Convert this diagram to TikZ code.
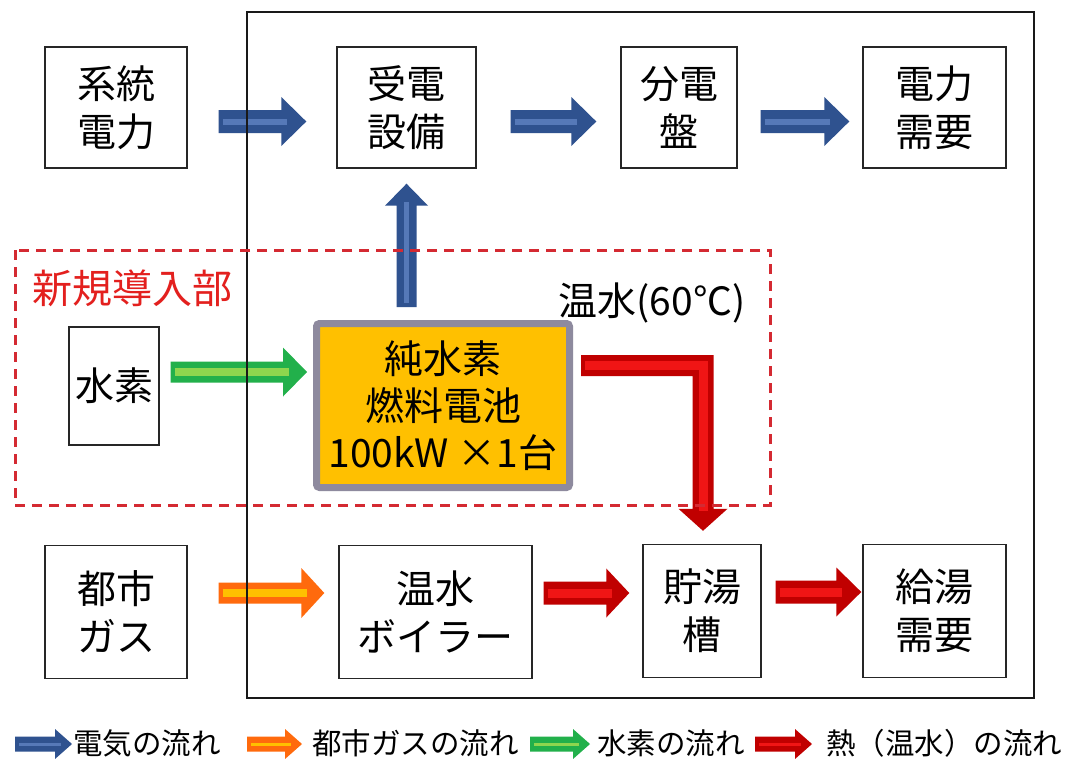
\documentclass[tikz,border=0pt]{standalone}
\usepackage{fontspec}
\setmainfont{Noto Sans CJK JP}
\usetikzlibrary{calc}
\definecolor{blueO}{HTML}{2F528F}
\definecolor{blueI}{HTML}{5679B8}
\definecolor{greenO}{HTML}{22B04B}
\definecolor{greenI}{HTML}{8ED64E}
\definecolor{orangeO}{HTML}{FF6A0D}
\definecolor{orangeI}{HTML}{FFC000}
\definecolor{redO}{HTML}{C00000}
\definecolor{redI}{HTML}{F01515}
\definecolor{fcfill}{HTML}{FFC000}
\definecolor{fcdraw}{HTML}{8E8A9E}
\definecolor{dashred}{HTML}{D42A32}
\definecolor{labred}{HTML}{E3201E}
% right block arrow: #1 start, #2 end, #3 outer, #4 inner, #5 shaft half, #6 head half, #7 head length, #8 inner width
\newcommand\rarr[8]{%
  \fill[#3] let \p1=(#1),\p2=(#2) in
    (\x1,\y1+#5pt) -- (\x2-#7pt,\y1+#5pt) -- (\x2-#7pt,\y1+#6pt) -- (\x2,\y1)
    -- (\x2-#7pt,\y1-#6pt) -- (\x2-#7pt,\y1-#5pt) -- (\x1,\y1-#5pt) -- cycle;
  \draw[#4,line width=#8pt] let \p1=(#1),\p2=(#2) in
    (\x1+4pt,\y1) -- (\x2-#7pt+6pt,\y1);}
% up block arrow: #1 tip, #2 base
\newcommand\uarr[8]{%
  \fill[#3] let \p1=(#1),\p2=(#2) in
    (\x1-#5pt,\y2) -- (\x1-#5pt,\y1-#7pt) -- (\x1-#6pt,\y1-#7pt) -- (\x1,\y1)
    -- (\x1+#6pt,\y1-#7pt) -- (\x1+#5pt,\y1-#7pt) -- (\x1+#5pt,\y2) -- cycle;
  \draw[#4,line width=#8pt] let \p1=(#1),\p2=(#2) in
    (\x1,\y2+4pt) -- (\x1,\y1-#7pt+4pt);}
\begin{document}
\begin{tikzpicture}[x=1pt,y=-1pt,
  box/.style={draw=black!85, line width=1.4, fill=white, align=center, inner sep=0pt,
    font=\fontsize{39}{48}\selectfont},
  fcbox/.style={draw=fcdraw, line width=7, fill=fcfill, rounded corners=3, align=center,
    inner sep=0pt, font=\fontsize{39}{47}\selectfont},
  leg/.style={anchor=west, inner sep=0pt, font=\fontsize{29.5}{32}\selectfont}]
\useasboundingbox (0,0) rectangle (1068,758);
\fill[white] (0,0) rectangle (1068,758);

% nodes
\node[box, minimum width=142, minimum height=121] (sys) at (116,107.5) {系統\\電力};
\node[box, minimum width=139, minimum height=121] (jd) at (406.5,107.5) {受電\\設備};
\node[box, minimum width=116, minimum height=121] (bun) at (679,107.5) {分電\\盤};
\node[box, minimum width=143, minimum height=121] (dem) at (934.5,107.5) {電力\\需要};
\node[box, minimum width=90, minimum height=118] (h2) at (114,386) {水素};
\node[fcbox, minimum width=253, minimum height=164] (fc) at (443,405.5) {純水素\\燃料電池\\100kW ×1台};
\node[box, minimum width=142, minimum height=133] (gas) at (116,612) {都市\\ガス};
\node[box, minimum width=193, minimum height=133] (boiler) at (435.5,612) {温水\\ボイラー};
\node[box, minimum width=118, minimum height=133] (tank) at (702,611) {貯湯\\槽};
\node[box, minimum width=143, minimum height=133] (sup) at (934.5,611) {給湯\\需要};

% connectors (block arrows)
\rarr{$(sys.east)+(31,14)$}{$(jd.west)+(-30,14)$}{blueO}{blueI}{11.5}{24.5}{25}{6}
\rarr{$(jd.east)+(34,14)$}{$(bun.west)+(-24,14)$}{blueO}{blueI}{11.5}{24.5}{25}{6}
\rarr{$(bun.east)+(23,14)$}{$(dem.west)+(-13,14)$}{blueO}{blueI}{11.5}{24.5}{25}{6}
\uarr{$(jd.south)+(0,15)$}{$(fc.north)+(0,-13)$}{blueO}{blueI}{10}{21.5}{22}{5}
\rarr{$(h2.east)+(11,-14)$}{$(fc.west)+(-6,-14)$}{greenO}{greenI}{10.5}{24.5}{24}{8}
\rarr{$(gas.east)+(31,-19)$}{$(boiler.west)+(-14,-19)$}{orangeO}{orangeI}{10.5}{25}{23}{8}
\rarr{$(boiler.east)+(11,-19)$}{$(tank.west)+(-13,-19)$}{redO}{redI}{11.5}{24.5}{23}{9}
\rarr{$(tank.east)+(14,-19)$}{$(sup.west)+(-1,-19)$}{redO}{redI}{11.5}{24.5}{25}{9}
% L-shaped heat arrow fc -> tank
\fill[redO] let \p1=($(fc.north east)+(8,45.5)$), \p2=($(tank.north)+(1,-13)$) in
  (\x1,\y1+10.5pt) -- (\x2+10.5pt,\y1+10.5pt) -- (\x2+10.5pt,\y2+22pt) -- (\x2+24.5pt,\y2+22pt)
  -- (\x2,\y2) -- (\x2-24.5pt,\y2+22pt) -- (\x2-10.5pt,\y2+22pt) -- (\x2-10.5pt,\y1-10.5pt)
  -- (\x1,\y1-10.5pt) -- cycle;
\draw[redI, line width=9pt] let \p1=($(fc.north east)+(8,45.5)$), \p2=($(tank.north)+(1,-13)$) in
  (\x1+4pt,\y1) -- (\x2,\y1) -- (\x2,\y2+20pt);

% frames
\draw[black!90, line width=2.4] (247,12) rectangle (1034,698);
\draw[dashred, line width=3, dash pattern=on 10pt off 7pt] (15,250) rectangle (770,505);
\node[text=labred, inner sep=0pt, font=\fontsize{40}{44}\selectfont] (newlab) at (132,288) {新規導入部};
\node[inner sep=0pt, font=\fontsize{39}{42}\selectfont] (wlab) at (652,303) {温水(60℃)};

% legend
\rarr{15,744}{72,744}{blueO}{blueI}{7.5}{15}{17}{3}
\node[leg] (l1) at (73,743) {電気の流れ};
\rarr{247,744}{302,744}{orangeO}{orangeI}{7.5}{15}{17}{3}
\node[leg] (l2) at (312,743) {都市ガスの流れ};
\rarr{530,744}{590,744}{greenO}{greenI}{7.5}{15}{17}{3}
\node[leg] (l3) at (597,743) {水素の流れ};
\rarr{755,744}{812,744}{redO}{redI}{7.5}{15}{17}{3}
\node[leg] (l4) at (826,743) {熱（温水）の流れ};
\end{tikzpicture}
\end{document}
